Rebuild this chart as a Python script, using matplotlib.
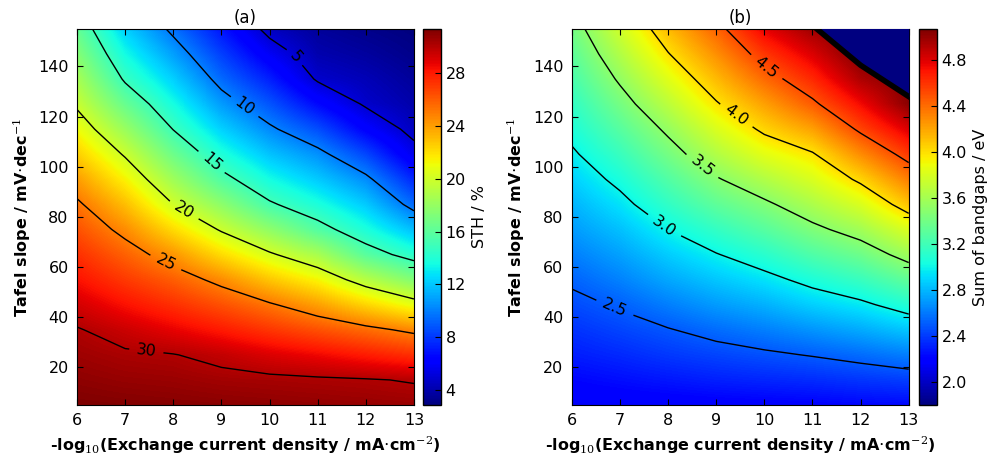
import numpy as np
import matplotlib
matplotlib.use("Agg")
import matplotlib.pyplot as plt
from matplotlib.colors import Normalize

# grid: -log10(j0) and Tafel slope (mV/dec)
log_j0 = [6, 7, 8, 9, 10, 11, 12, 13]
tafel = [5, 15, 25, 35, 45, 55, 65, 75, 85, 95, 105, 115, 125, 135, 145, 155]

# (a) STH / %, one list per log_j0 column (bottom -> top)
sth_cols = [
    [31.3, 30.9, 30.5, 30.1, 29.2, 28.2, 27.3, 26.3, 25.3, 24.0, 22.5, 21.1, 19.7, 18.6, 17.4, 16.3],
    [31.2, 30.7, 30.2, 29.4, 28.2, 27.0, 25.8, 24.5, 23.0, 21.4, 19.8, 18.1, 16.4, 14.75, 13.5, 12.25],
    [31.1, 30.6, 30.05, 28.7, 27.3, 25.9, 24.2, 22.1, 20.0, 18.3, 16.6, 14.95, 13.6, 12.25, 10.9, 9.6],
    [31.0, 30.4, 29.6, 27.95, 26.3, 24.5, 22.1, 19.8, 17.7, 15.6, 13.9, 12.3, 10.8, 9.4, 8.2, 7.0],
    [30.9, 30.3, 29.0, 27.1, 25.2, 22.75, 20.25, 17.75, 15.25, 13.55, 11.9, 10.3, 8.8, 7.3, 5.85, 4.5],
    [30.8, 30.2, 28.5, 26.3, 23.9, 21.3, 18.6, 15.7, 13.8, 12.1, 10.5, 8.6, 6.6, 4.8, 4.1, 3.6],
    [30.7, 30.1, 27.9, 25.5, 22.3, 19.1, 15.9, 13.8, 12.1, 10.4, 8.4, 6.3, 4.8, 4.3, 3.7, 3.2],
    [30.6, 29.9, 27.3, 24.6, 20.8, 17.3, 14.25, 11.75, 9.4, 7.5, 5.6, 4.5, 4.0, 3.6, 3.2, 2.9],
]

# (b) sum of bandgaps / eV
gap_cols = [
    [2.15, 2.22, 2.30, 2.37, 2.45, 2.53, 2.62, 2.71, 2.79, 2.88, 2.97, 3.06, 3.14, 3.23, 3.31, 3.40],
    [2.16, 2.25, 2.34, 2.43, 2.52, 2.63, 2.73, 2.83, 2.94, 3.05, 3.17, 3.29, 3.41, 3.53, 3.65, 3.77],
    [2.17, 2.28, 2.39, 2.49, 2.62, 2.75, 2.87, 3.00, 3.14, 3.27, 3.41, 3.54, 3.69, 3.84, 3.99, 4.13],
    [2.18, 2.31, 2.43, 2.56, 2.71, 2.85, 2.99, 3.15, 3.32, 3.48, 3.65, 3.81, 3.98, 4.13, 4.28, 4.43],
    [2.19, 2.33, 2.47, 2.62, 2.78, 2.94, 3.11, 3.29, 3.46, 3.65, 3.85, 4.04, 4.22, 4.41, 4.59, 4.78],
    [2.20, 2.35, 2.51, 2.69, 2.88, 3.06, 3.26, 3.45, 3.63, 3.81, 3.98, 4.22, 4.46, 4.64, 4.81, 4.98],
    [2.22, 2.38, 2.56, 2.76, 2.96, 3.17, 3.38, 3.59, 3.81, 4.04, 4.29, 4.54, 4.74, 4.94, 5.07, 5.07],
    [2.23, 2.41, 2.62, 2.85, 3.09, 3.33, 3.58, 3.82, 4.10, 4.34, 4.58, 4.81, 5.04, 5.07, 5.07, 5.07],
]

# region with no solution in (b)
nosol_x = [11.09, 12.0, 13.0]
nosol_tafel = [155, 140.5, 128]
nosol_value = 1.8

levels_a = [5, 10, 15, 20, 25, 30]
levels_b = [2.5, 3.0, 3.5, 4.0, 4.5]
cbar_ticks_a = [4, 8, 12, 16, 20, 24, 28]
cbar_ticks_b = [2.0, 2.4, 2.8, 3.2, 3.6, 4.0, 4.4, 4.8]

# label spots (layout)
lab_pos_a = [(10.4, 142), (9.4, 122), (8.75, 101), (8.2, 82), (7.85, 62), (7.45, 28)]
lab_pos_b = [(10.05, 140), (9.4, 120), (8.7, 100), (7.9, 76), (6.9, 44)]

sth = np.array(sth_cols).T
gap = np.array(gap_cols).T
X, Y = np.meshgrid(log_j0, tafel)

plt.rcParams["font.family"] = "DejaVu Sans"
plt.rcParams["mathtext.fontset"] = "dejavuserif"

fig = plt.figure(figsize=(9.91, 4.57), dpi=100)
fs = 11.5

ax_a = fig.add_axes([0.0777, 0.1138, 0.340, 0.823])
cax_a = fig.add_axes([0.427, 0.1138, 0.0178, 0.823])
ax_b = fig.add_axes([0.577, 0.1138, 0.340, 0.823])
cax_b = fig.add_axes([0.9277, 0.1138, 0.0176, 0.823])

ext = [log_j0[0] - 0.5, log_j0[-1] + 0.5, tafel[0] - 5, tafel[-1] + 5]

# panel (a)
norm_a = Normalize(sth.min(), sth.max())
im_a = ax_a.imshow(sth, origin="lower", extent=ext, aspect="auto", cmap="jet",
                   norm=norm_a, interpolation="bilinear")
cs_a = ax_a.contour(X, Y, sth, levels=levels_a, colors="k", linewidths=1.0)
ax_a.clabel(cs_a, fmt="%d", fontsize=fs, inline=True, manual=lab_pos_a)
cb_a = fig.colorbar(im_a, cax=cax_a, ticks=cbar_ticks_a)
cb_a.set_label("STH / %", fontsize=fs)

# panel (b)
norm_b = Normalize(min(gap.min(), nosol_value), gap.max())
im_b = ax_b.imshow(gap, origin="lower", extent=ext, aspect="auto", cmap="jet",
                   norm=norm_b, interpolation="bilinear")
cs_b = ax_b.contour(X, Y, gap, levels=levels_b, colors="k", linewidths=1.0)
ax_b.clabel(cs_b, fmt="%.1f", fontsize=fs, inline=True, manual=lab_pos_b)
ax_b.fill_between(nosol_x, nosol_tafel, tafel[-1] + 5,
                  color=plt.get_cmap("jet")(norm_b(nosol_value)), lw=0, zorder=3)
ax_b.plot(nosol_x, nosol_tafel, color="k", lw=4, zorder=4)
cb_b = fig.colorbar(im_b, cax=cax_b, ticks=cbar_ticks_b)
cb_b.set_label("Sum of bandgaps / eV", fontsize=fs)
cb_b.ax.set_yticklabels(["%.1f" % t for t in cbar_ticks_b])

for ax, title in [(ax_a, "(a)"), (ax_b, "(b)")]:
    ax.set_xlim(6, 13)
    ax.set_ylim(5, 155)
    ax.set_xticks(log_j0)
    ax.set_yticks([20, 40, 60, 80, 100, 120, 140])
    ax.tick_params(direction="in", top=True, right=True, labelsize=fs,
                   length=4, pad=6)
    ax.set_title(title, fontsize=fs + 0.5, pad=4)
    ax.set_xlabel(r"-log$_{10}$(Exchange current density / mA$\cdot$cm$^{-2}$)",
                  fontsize=fs, fontweight="bold")
    ax.set_ylabel(r"Tafel slope / mV$\cdot$dec$^{-1}$", fontsize=fs,
                  fontweight="bold")

for cb in (cb_a, cb_b):
    cb.ax.tick_params(direction="in", labelsize=fs, length=4)
    cb.outline.set_linewidth(1.0)

fig.savefig("out.png", dpi=100)
